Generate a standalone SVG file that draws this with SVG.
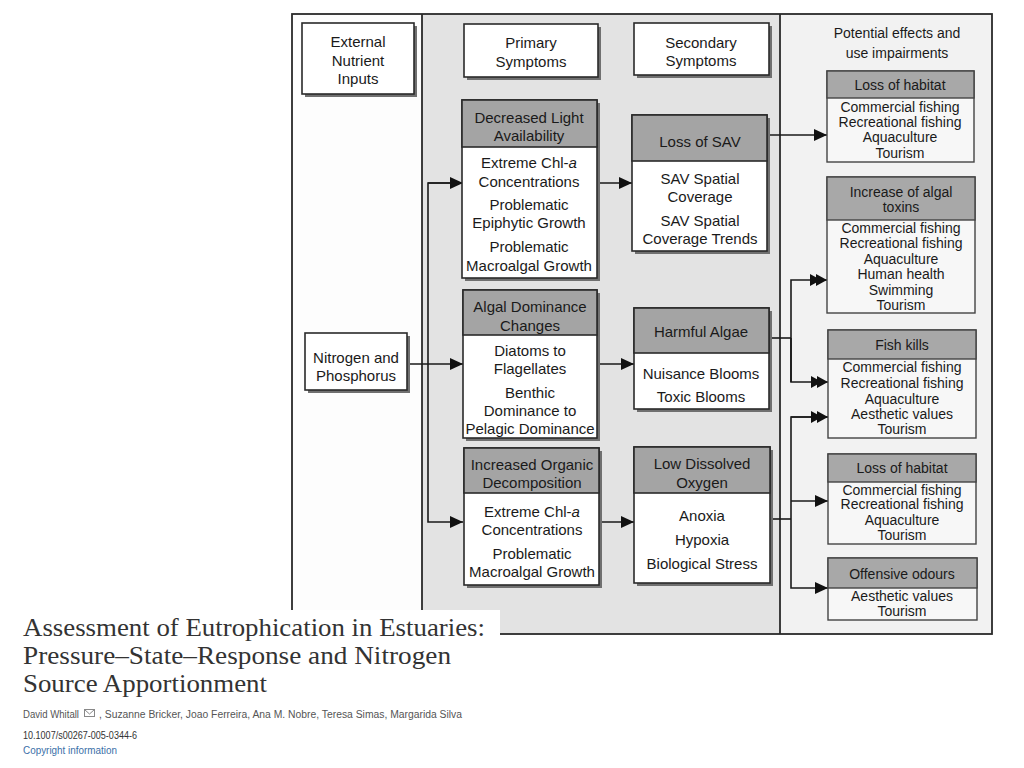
<svg xmlns="http://www.w3.org/2000/svg" width="1024" height="768" viewBox="0 0 1024 768">
<style>
.t{font-family:"Liberation Sans",Arial,sans-serif;font-size:15px;fill:#1a1a1a;text-anchor:middle}
.s{font-family:"Liberation Sans",Arial,sans-serif;font-size:14px;fill:#1a1a1a;text-anchor:middle}
.box{fill:#fff;stroke:#2a2a2a;stroke-width:1.6}
.lbox{fill:#f7f7f7;stroke:#444;stroke-width:1.4}
.hdr{fill:#a4a4a4;stroke:#2a2a2a;stroke-width:1.6}
.lhdr{fill:#a8a8a8;stroke:#444;stroke-width:1.4}
.sh{fill:#707070}
.ln{fill:none;stroke:#1a1a1a;stroke-width:1.6}
.frame{fill:none;stroke:#2a2a2a;stroke-width:1.8}
.cap{font-family:"Liberation Serif","Times New Roman",serif;font-size:25px;fill:#333}
.meta{font-family:"Liberation Sans",Arial,sans-serif;font-size:10px;fill:#555}
</style>
<defs>
<marker id="ar" markerUnits="userSpaceOnUse" markerWidth="14" markerHeight="12" refX="13" refY="6" orient="auto">
<path d="M0,0 L13,6 L0,12 Z" fill="#111"/>
</marker>
<marker id="ar2" markerUnits="userSpaceOnUse" markerWidth="18" markerHeight="12" refX="17" refY="6" orient="auto">
<path d="M0,0 L11,6 L0,12 Z M6,0 L17,6 L6,12 Z" fill="#111"/>
</marker>
</defs>
<rect width="1024" height="768" fill="#fff"/>
<g id="panels">
<rect x="292" y="14" width="130" height="620" fill="#fdfdfd"/>
<rect x="422" y="14" width="358" height="620" fill="#e3e3e3"/>
<rect x="780" y="14" width="212" height="620" fill="#f2f2f2"/>
<rect x="292" y="14" width="700" height="620" class="frame"/>
<line x1="422" y1="14" x2="422" y2="634" class="frame"/>
<line x1="780" y1="14" x2="780" y2="634" class="frame"/>
</g>
<g id="connectors">
<path class="ln" d="M407,364 H463" marker-end="url(#ar)"/>
<path class="ln" d="M463,183 H428 V522 H463" marker-end="url(#ar)"/>
<path class="ln" d="M428,183 H463" marker-end="url(#ar)"/>
<path class="ln" d="M597,183 H632" marker-end="url(#ar)"/>
<path class="ln" d="M597,364 H634" marker-end="url(#ar)"/>
<path class="ln" d="M599,522 H634" marker-end="url(#ar)"/>
<path class="ln" d="M767,135 H827" marker-end="url(#ar)"/>
<path class="ln" d="M769,338 H791"/>
<path class="ln" d="M791,382 V280 H827" marker-end="url(#ar2)"/>
<path class="ln" d="M791,338 V382 H828" marker-end="url(#ar2)"/>
<path class="ln" d="M770,519 H791"/>
<path class="ln" d="M828,417 H791 V588 H828" marker-end="url(#ar)"/>
<path class="ln" d="M791,417 H828" marker-end="url(#ar2)"/>
<path class="ln" d="M791,501 H828" marker-end="url(#ar)"/>
</g>
<g id="external-nutrient-inputs">
<rect class="sh" x="305" y="26" width="112" height="71"/>
<rect class="box" x="302" y="23" width="112" height="71"/>
<text class="t" x="358" y="47">External</text>
<text class="t" x="358" y="66">Nutrient</text>
<text class="t" x="358" y="84">Inputs</text>
</g>
<g id="primary-symptoms">
<rect class="sh" x="467" y="27" width="134" height="53"/>
<rect class="box" x="464" y="24" width="134" height="53"/>
<text class="t" x="531" y="48">Primary</text>
<text class="t" x="531" y="67">Symptoms</text>
</g>
<g id="secondary-symptoms">
<rect class="sh" x="637" y="26" width="135" height="52"/>
<rect class="box" x="634" y="23" width="135" height="52"/>
<text class="t" x="701" y="48">Secondary</text>
<text class="t" x="701" y="66">Symptoms</text>
</g>
<g id="decreased-light">
<rect class="sh" x="465" y="103" width="135" height="178"/>
<rect class="box" x="462" y="100" width="135" height="178"/>
<rect class="hdr" x="462" y="100" width="135" height="47"/>
<text class="t" x="529" y="123">Decreased Light</text>
<text class="t" x="529" y="141">Availability</text>
<text class="t" x="529" y="168">Extreme Chl-<tspan font-style="italic">a</tspan></text>
<text class="t" x="529" y="187">Concentrations</text>
<text class="t" x="529" y="210">Problematic</text>
<text class="t" x="529" y="228">Epiphytic Growth</text>
<text class="t" x="529" y="252">Problematic</text>
<text class="t" x="529" y="271">Macroalgal Growth</text>
</g>
<g id="loss-of-sav">
<rect class="sh" x="635" y="118" width="135" height="136"/>
<rect class="box" x="632" y="115" width="135" height="136"/>
<rect class="hdr" x="632" y="115" width="135" height="46"/>
<text class="t" x="700" y="147">Loss of SAV</text>
<text class="t" x="700" y="184">SAV Spatial</text>
<text class="t" x="700" y="202">Coverage</text>
<text class="t" x="700" y="226">SAV Spatial</text>
<text class="t" x="700" y="244">Coverage Trends</text>
</g>
<g id="nitrogen-phosphorus">
<rect class="sh" x="308" y="336" width="102" height="57"/>
<rect class="box" x="305" y="333" width="102" height="57"/>
<text class="t" x="356" y="363">Nitrogen and</text>
<text class="t" x="356" y="381">Phosphorus</text>
</g>
<g id="algal-dominance">
<rect class="sh" x="466" y="293" width="134" height="148"/>
<rect class="box" x="463" y="290" width="134" height="148"/>
<rect class="hdr" x="463" y="290" width="134" height="45"/>
<text class="t" x="530" y="312">Algal Dominance</text>
<text class="t" x="530" y="331">Changes</text>
<text class="t" x="530" y="356">Diatoms to</text>
<text class="t" x="530" y="374">Flagellates</text>
<text class="t" x="530" y="398">Benthic</text>
<text class="t" x="530" y="416">Dominance to</text>
<text class="t" x="530" y="434">Pelagic Dominance</text>
</g>
<g id="harmful-algae">
<rect class="sh" x="637" y="311" width="135" height="101"/>
<rect class="box" x="634" y="308" width="135" height="101"/>
<rect class="hdr" x="634" y="308" width="135" height="45"/>
<text class="t" x="701" y="337">Harmful Algae</text>
<text class="t" x="701" y="379">Nuisance Blooms</text>
<text class="t" x="701" y="402">Toxic Blooms</text>
</g>
<g id="increased-organic">
<rect class="sh" x="467" y="451" width="135" height="137"/>
<rect class="box" x="464" y="448" width="135" height="137"/>
<rect class="hdr" x="464" y="448" width="135" height="45"/>
<text class="t" x="532" y="470">Increased Organic</text>
<text class="t" x="532" y="488">Decomposition</text>
<text class="t" x="532" y="517">Extreme Chl-<tspan font-style="italic">a</tspan></text>
<text class="t" x="532" y="535">Concentrations</text>
<text class="t" x="532" y="559">Problematic</text>
<text class="t" x="532" y="577">Macroalgal Growth</text>
</g>
<g id="low-dissolved-oxygen">
<rect class="sh" x="637" y="450" width="136" height="136"/>
<rect class="box" x="634" y="447" width="136" height="136"/>
<rect class="hdr" x="634" y="447" width="136" height="46"/>
<text class="t" x="702" y="469">Low Dissolved</text>
<text class="t" x="702" y="488">Oxygen</text>
<text class="t" x="702" y="521">Anoxia</text>
<text class="t" x="702" y="545">Hypoxia</text>
<text class="t" x="702" y="569">Biological Stress</text>
</g>
<g id="effects-title">
<text class="s" x="897" y="38">Potential effects and</text>
<text class="s" x="897" y="58">use impairments</text>
</g>
<g id="loss-of-habitat-1">
<rect class="lbox" x="827" y="71" width="147" height="91"/>
<rect class="lhdr" x="827" y="71" width="147" height="27"/>
<text class="s" x="900" y="90">Loss of habitat</text>
<text class="s" x="900" y="112">Commercial fishing</text>
<text class="s" x="900" y="127">Recreational fishing</text>
<text class="s" x="900" y="142">Aquaculture</text>
<text class="s" x="900" y="158">Tourism</text>
</g>
<g id="algal-toxins">
<rect class="lbox" x="827" y="177" width="148" height="136"/>
<rect class="lhdr" x="827" y="177" width="148" height="43"/>
<text class="s" x="901" y="197">Increase of algal</text>
<text class="s" x="901" y="212">toxins</text>
<text class="s" x="901" y="233">Commercial fishing</text>
<text class="s" x="901" y="248">Recreational fishing</text>
<text class="s" x="901" y="264">Aquaculture</text>
<text class="s" x="901" y="279">Human health</text>
<text class="s" x="901" y="295">Swimming</text>
<text class="s" x="901" y="310">Tourism</text>
</g>
<g id="fish-kills">
<rect class="lbox" x="828" y="330" width="148" height="108"/>
<rect class="lhdr" x="828" y="330" width="148" height="29"/>
<text class="s" x="902" y="350">Fish kills</text>
<text class="s" x="902" y="372">Commercial fishing</text>
<text class="s" x="902" y="388">Recreational fishing</text>
<text class="s" x="902" y="404">Aquaculture</text>
<text class="s" x="902" y="419">Aesthetic values</text>
<text class="s" x="902" y="434">Tourism</text>
</g>
<g id="loss-of-habitat-2">
<rect class="lbox" x="828" y="454" width="148" height="90"/>
<rect class="lhdr" x="828" y="454" width="148" height="28"/>
<text class="s" x="902" y="473">Loss of habitat</text>
<text class="s" x="902" y="495">Commercial fishing</text>
<text class="s" x="902" y="509">Recreational fishing</text>
<text class="s" x="902" y="525">Aquaculture</text>
<text class="s" x="902" y="540">Tourism</text>
</g>
<g id="offensive-odours">
<rect class="lbox" x="828" y="558" width="149" height="62"/>
<rect class="lhdr" x="828" y="558" width="149" height="30"/>
<text class="s" x="902" y="579">Offensive odours</text>
<text class="s" x="902" y="601">Aesthetic values</text>
<text class="s" x="902" y="616">Tourism</text>
</g>
<g id="caption">
<rect x="0" y="610" width="500" height="158" fill="#fff"/>
<text class="cap" x="23" y="636" textLength="462" lengthAdjust="spacingAndGlyphs">Assessment of Eutrophication in Estuaries:</text>
<text class="cap" x="23" y="664" textLength="428" lengthAdjust="spacingAndGlyphs">Pressure–State–Response and Nitrogen</text>
<text class="cap" x="23" y="692" textLength="244" lengthAdjust="spacingAndGlyphs">Source Apportionment</text>
<text class="meta" x="23" y="718" textLength="56" lengthAdjust="spacingAndGlyphs">David Whitall</text>
<g fill="none" stroke="#888" stroke-width="1">
<rect x="84.5" y="709.5" width="10" height="7"/>
<path d="M84.5,709.5 L89.5,714 L94.5,709.5"/>
</g>
<text class="meta" x="99" y="718" textLength="363" lengthAdjust="spacingAndGlyphs">, Suzanne Bricker, Joao Ferreira, Ana M. Nobre, Teresa Simas, Margarida Silva</text>
<text class="meta" x="23" y="739" fill="#333" style="fill:#333" textLength="114" lengthAdjust="spacingAndGlyphs">10.1007/s00267-005-0344-6</text>
<text class="meta" x="23" y="754" style="fill:#3b6fa8" textLength="94" lengthAdjust="spacingAndGlyphs">Copyright information</text>
</g>
</svg>
